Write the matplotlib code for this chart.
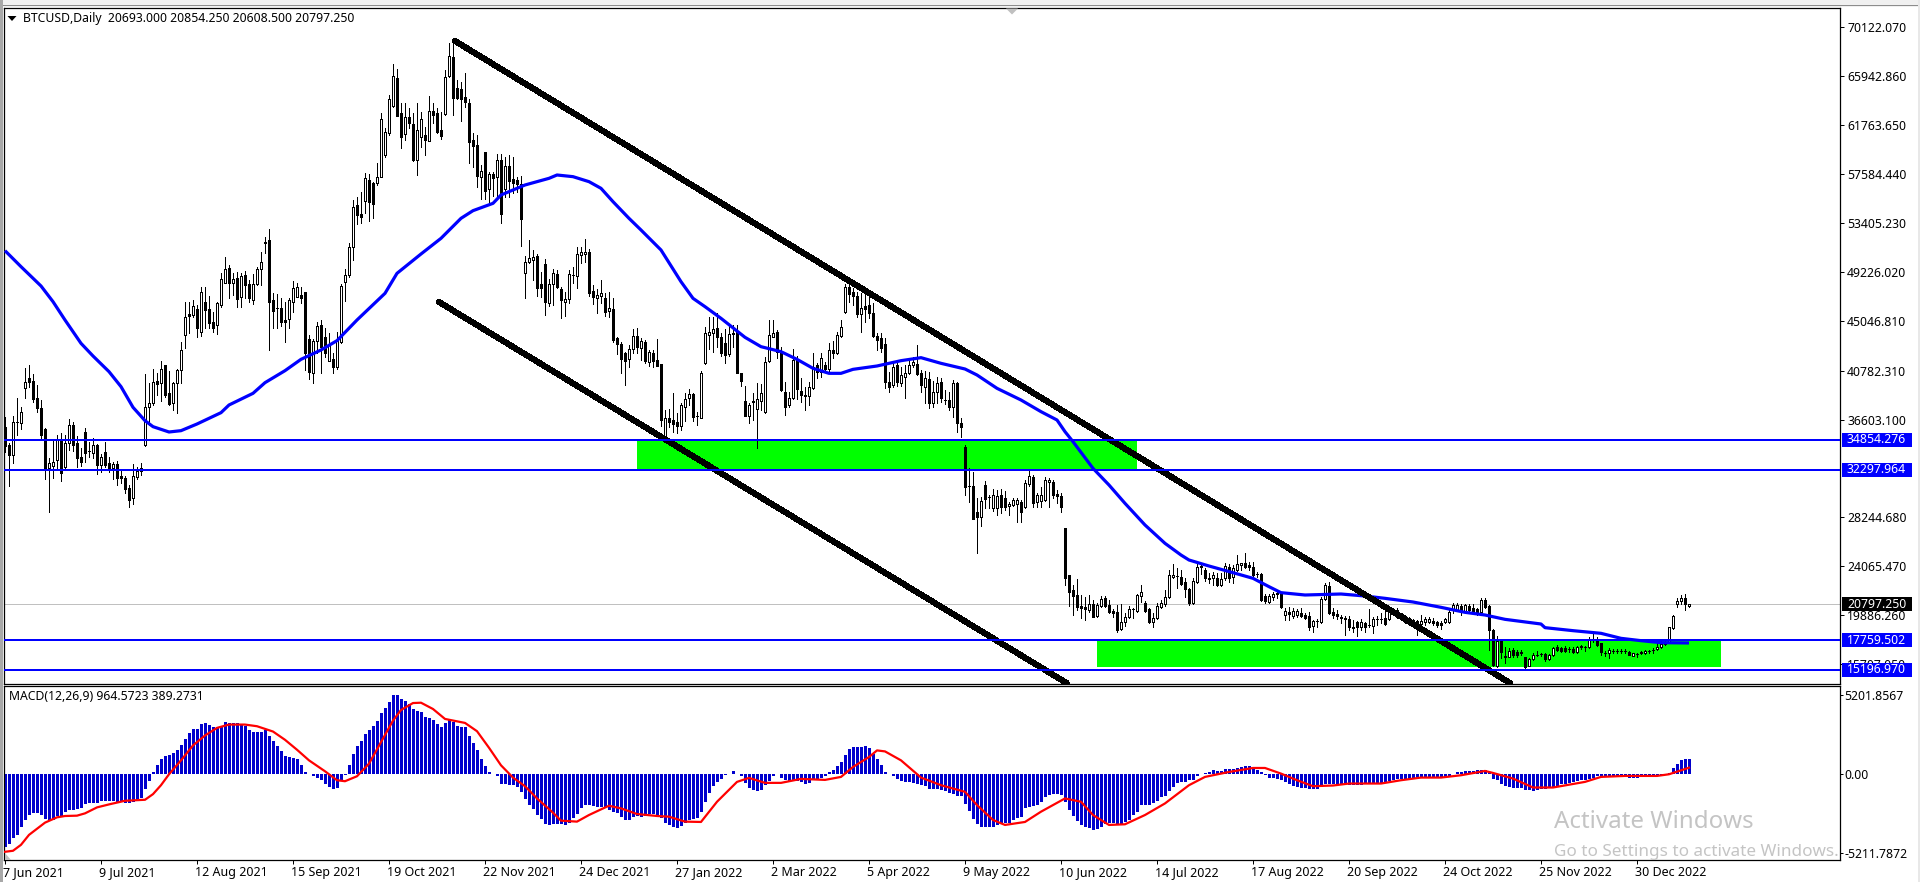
import matplotlib
matplotlib.use('Agg')
import matplotlib.pyplot as plt
from matplotlib.patches import Rectangle, Polygon
from matplotlib.transforms import ScaledTranslation

plt.rcParams['font.family'] = ['Noto Sans', 'DejaVu Sans']

# daily candles
opens = [
    35936,34426,33572,36364,36278,39270,40124,39897,38415,37560,
    35765,32489,32660,33144,34854,32575,34569,36136,34569,33372,
    35509,33942,33771,34426,32717,33800,32859,32489,32774,31777,
    31577,30723,29868,31720,32432,34426,37646,37988,39897,39697,
    41264,38842,37988,39697,40837,43829,45624,45538,46051,44114,
    46677,46023,44968,44683,46392,48302,49527,48244,48672,47048,
    48957,48187,46820,48159,49441,51663,51948,46820,46136,46108,
    45111,45168,46677,47105,47247,47532,43458,40552,43345,44683,
    43629,41635,41749,41122,43259,48387,48957,51321,54939,54170,
    55310,57076,56848,56848,57361,59213,61065,63401,65766,62774,
    61008,62489,61863,58786,60723,60922,60438,63002,62774,61350,
    62717,65965,67561,64911,64826,64199,63629,60495,60068,57304,
    59441,56279,57561,57304,58786,56307,58273,57134,57076,56735,
    49156,50039,50239,50581,48188,49868,46592,48159,49042,47760,
    46678,46906,48957,48900,50695,50780,50923,47589,47020,47190,
    46962,45908,46051,43543,43059,42262,41749,42603,43743,42746,
    43259,41550,42262,41692,41350,35225,36706,36564,36364,36079,
    37646,38415,38757,36906,36706,41463,43828,43970,44398,43629,
    43173,42204,43971,44113,40552,38187,36905,38215,37475,38215,
    37219,41606,43686,44056,42261,38928,37845,38415,41748,39070,
    38672,38615,39270,41264,40694,41264,40894,42546,42261,43743,
    45822,47959,47532,47161,45623,46307,46392,45680,43743,43543,
    43059,39839,39554,41264,39697,40210,40609,41264,41349,40552,
    39412,40039,37987,38985,39839,38294,38272,37646,39754,36278,
    34284,30950,30922,28728,28301,31007,30010,29070,29070,30153,
    29868,29212,29298,29383,29526,29099,31093,31719,29583,29668,
    29725,31292,31292,30238,30067,27304,23315,22033,21606,20666,
    20552,20324,20837,19811,20666,21321,20751,20267,20181,18671,
    19326,19697,20395,20267,21520,20950,20381,19326,19611,20609,
    20837,21406,23173,23244,23173,22745,22118,20893,22688,23970,
    23742,23044,23030,23030,22460,23030,24027,23116,23742,24198,
    24369,24170,24027,23388,23401,21520,21036,21463,21762,21748,
    19896,20181,19811,19925,20096,19896,19839,18956,19397,19326,
    21235,22375,20153,19953,19683,19669,19583,18855,19327,18842,
    19184,19055,18985,19540,19540,19612,19526,20381,20324,20039,
    19540,19612,19469,19355,19127,19327,19327,19412,19270,19241,
    19327,19327,20324,20324,20694,20267,20666,20466,20381,20181,
    21179,20666,18615,15538,17703,16279,16335,16905,16763,16677,
    16279,15566,16108,16520,16577,16563,16108,16449,17133,17048,
    17105,16977,16991,16763,17133,17147,17133,17831,17760,17475,
    16691,16620,16862,16862,16834,16834,16734,16392,16577,16620,
    16620,16834,16920,16962,17133,17418,17532,18785,20837,21122,
    21321,20693]
highs = [
    36848,34569,36933,38415,37646,40979,41264,40495,39555,38273,
    35851,33287,34797,35281,35424,35281,36649,36420,35196,34142,
    35851,34711,34996,34483,33628,34654,33429,33002,33059,32290,
    31777,31007,32802,32575,32916,40495,39697,40922,40552,41606,
    41264,40780,39782,40922,43259,46677,46677,46820,46392,47959,
    47959,47161,45823,46677,49099,50467,49811,49156,49241,49156,
    49327,48529,49042,49612,50951,52176,52860,47389,47332,46962,
    46677,46962,48472,48301,47959,47532,43828,43458,44968,45111,
    44399,43971,42262,44114,48187,49441,51720,55367,55652,56079,
    57703,57589,56934,58501,62774,61492,64341,66963,66535,63629,
    63686,63202,62774,63629,62917,61635,64256,63629,63202,62917,
    66478,68757,69099,65623,65481,66250,63971,61065,60923,58358,
    59441,57789,57789,59299,59299,59071,59213,59014,57361,57418,
    50581,51948,51094,50752,49242,50296,48586,49441,49384,47903,
    47475,49384,49669,51379,51379,52034,51151,48102,47732,48530,
    47390,47475,46962,43686,43202,42404,42974,44342,44399,43544,
    43401,42547,42547,43487,41350,37418,37475,38900,37133,38045,
    38843,39213,38843,37276,40780,44483,45395,45395,45737,43971,
    44312,44683,44683,44683,40609,39469,38045,38842,39697,39640,
    41919,45110,45110,44255,42831,39839,38985,42603,42033,40124,
    39412,39839,42261,41463,42261,41549,43173,43344,44113,45110,
    48159,48244,47817,47532,47446,47247,47247,46535,43971,43971,
    43543,40694,41463,41406,41065,41264,41691,41919,42973,40837,
    40780,40694,39925,40210,40124,39127,38985,39982,39839,36706,
    34426,32432,32090,29868,30010,31377,30153,30637,30580,30637,
    30523,29584,29868,29868,29725,31435,32204,31862,30295,30865,
    31719,31576,31434,30580,30295,27361,23315,22460,22945,21606,
    21406,21606,21178,20893,21520,21520,21178,20381,20751,20837,
    20039,20666,20466,21691,22460,21122,20466,20039,20893,21178,
    22033,23742,24255,23885,23742,23030,22176,23030,24255,24170,
    23885,23458,23600,23458,23458,24312,24227,24170,25024,24369,
    25167,24454,24454,23600,23458,21691,21691,21891,22033,21891,
    20466,20552,20466,20381,20466,20039,20181,19469,19526,21406,
    22603,22745,20466,20324,19897,19811,19811,19469,19412,19526,
    19327,20409,19697,19811,20039,20324,20267,20466,20466,20096,
    19897,19697,19526,19469,19897,19697,19697,19612,19412,19355,
    19612,20466,20951,20951,20837,20837,20837,20837,20466,21321,
    21321,20751,18672,18102,17703,17190,17048,17048,16905,16905,
    16335,16193,16677,16820,16677,16677,16563,17190,17332,17190,
    17275,17133,17190,17275,17332,17275,18045,18244,17988,17532,
    16848,17048,16990,16962,16962,16990,16820,16677,16677,16791,
    16905,16905,17048,17475,17760,17703,18899,19925,21321,21634,
    21663,20854]
lows = [
    33857,30950,32859,35281,35794,38415,39412,38130,37275,34996,
    31520,28728,31577,32290,31378,32290,33999,33942,32575,32632,
    33002,33429,33287,31948,32090,32575,32090,31520,31007,31150,
    30352,29156,29384,31520,31891,34369,36136,37845,38700,38216,
    38557,37845,37418,37133,39697,42689,43971,45396,43686,43743,
    44399,44399,44114,43885,46250,48244,46962,47247,46193,46250,
    46962,46677,46478,48102,48102,50866,42546,44399,44399,44598,
    43259,44399,45823,47047,46592,40837,40040,39697,42262,40552,
    41920,41635,40609,40894,43116,46763,48814,50239,53316,53430,
    54228,53601,53800,56620,57304,59071,60922,63344,62547,59840,
    60495,61492,58729,57532,59925,59213,60438,61920,61122,60552,
    62632,65851,62632,63971,62148,63287,58501,58216,56507,55452,
    55452,55225,55709,55652,53430,55652,55652,55937,56079,51464,
    47020,50011,48530,47190,47105,45538,46307,46393,47817,45310,
    45452,46535,48302,47874,49954,50096,47190,46478,45737,46592,
    45481,45396,43259,42205,40552,39584,41122,42262,42262,41692,
    41407,41208,41065,41208,36051,35082,35994,35566,35424,35709,
    36507,37846,36507,36136,36706,41349,42603,42404,42831,42033,
    41463,42033,42831,40552,39469,36905,36278,36563,34141,37418,
    37133,41549,43629,41834,39042,36990,37703,38358,38358,38130,
    37418,37845,39184,40124,40267,40780,40780,41834,42204,43686,
    45680,46677,46392,45395,44113,44968,45253,43686,42546,42404,
    39270,38985,39412,39469,39469,38415,40495,41121,40409,38985,
    38044,37560,37703,37987,38130,37930,37418,36848,35566,35139,
    30153,29584,28073,25167,27504,29013,29013,28813,28443,28586,
    28870,28443,29212,27874,27874,29013,30922,29156,29156,29156,
    29668,29156,29868,29440,28728,22460,20666,19896,20324,19612,
    19469,20181,19697,19697,20552,20552,20096,19754,18472,18614,
    18956,19611,19611,20181,21036,20181,19241,18842,19526,20466,
    20666,21321,23030,22176,22460,21463,20751,20836,22603,23401,
    22831,22603,22460,22375,22375,22888,22745,22603,23685,23742,
    23885,23742,23173,23173,21121,20893,20893,21178,21321,20495,
    19469,19469,19611,19754,19754,19526,18614,18472,18899,19241,
    21178,19953,19611,19526,19184,18187,18615,18472,18102,18615,
    18472,18899,18387,19042,19184,19042,19469,19897,19612,19469,
    19184,19042,18899,18187,18956,19042,19241,19042,18899,18672,
    19184,19241,20039,20267,19897,20181,20181,20039,19897,20096,
    20466,16905,15538,15481,16193,15765,16279,16279,16335,16478,
    15338,15538,16051,16392,16392,15993,16051,16392,16848,16763,
    16763,16763,16620,16677,17019,16848,17048,17617,17247,16478,
    16392,16193,16677,16620,16620,16677,16449,16364,16335,16563,
    16563,16677,16677,16905,17076,17332,17475,18728,20609,20837,
    20324,20608]
closes = [
    34341,33572,36364,36420,37218,39782,39839,38330,37617,35281,
    32489,32859,32945,34854,32062,34626,36136,34426,33287,32973,
    33771,33914,34455,32717,33429,32717,32347,32774,31577,31634,
    30666,29725,31777,32233,32204,37646,37988,39839,39611,40922,
    38700,37931,39697,40837,42547,45396,45453,46307,44399,47532,
    45966,44883,44455,46535,48586,49441,48244,48586,46877,48871,
    48102,46962,48159,49441,50097,51806,46677,45909,46108,44968,
    44968,46820,47817,47959,47019,42262,40695,43345,44598,42831,
    42262,42973,41065,43401,48016,48957,51378,54797,54085,53885,
    57218,55225,55025,57304,62262,61207,63971,65965,62547,60723,
    62489,61976,58786,61350,62262,60495,63002,62632,61207,60837,
    65908,67675,64057,64057,63971,63772,60353,60011,57447,57817,
    56165,57589,57219,58786,54142,58273,57020,56849,56735,53715,
    50039,50381,50524,47874,47874,46678,48159,49099,47960,46820,
    46906,49014,48985,50723,50923,50894,47447,47105,47247,47418,
    45823,46108,43401,43031,41806,41635,42603,43743,42775,43344,
    41606,42376,41635,41208,36564,36706,36421,36222,36079,37817,
    38330,38757,36849,36878,40552,44028,44113,44341,43629,42318,
    42119,43885,43943,40609,39925,36905,37845,38102,38329,38899,
    41549,43828,43971,42404,39127,37703,38415,41691,39184,38700,
    38643,39412,41065,40694,41834,40894,42546,42261,43828,44484,
    47959,47332,47190,45623,46107,46022,45737,43743,43401,42688,
    39839,39412,41121,39839,40409,40609,41264,41549,40495,39554,
    40124,38044,38985,39754,38415,38265,37646,39697,36335,35936,
    30865,30922,28073,28301,29669,29782,29982,30153,30096,29156,
    29156,29384,29725,29725,28671,31207,31776,29497,30153,30153,
    31434,31434,30153,30067,29099,23087,21891,21520,20609,20523,
    20381,20837,19754,20751,21264,20666,20181,20096,18614,19326,
    19697,20381,20367,21606,21834,20267,19326,19611,20666,20893,
    21463,23315,23315,23216,22517,22118,20893,22802,24027,24084,
    23030,23016,23315,22460,22945,24084,23087,23885,24227,24312,
    24027,23970,23315,23360,21178,21121,21520,21691,21734,20552,
    20267,19982,20267,20267,19839,19640,18842,19383,19369,21264,
    22460,20039,19868,19811,19655,19526,18899,18827,18842,19327,
    18899,19027,19526,19512,19512,19127,20124,20039,19754,19612,
    19512,19327,19184,19127,19412,19555,19555,19184,19042,19042,
    19526,20181,20751,20751,20267,20751,20324,20181,20181,21179,
    20609,18615,15623,17703,16763,16392,16848,16478,16478,16763,
    15424,16108,16449,16492,16549,16108,16449,17105,16905,16848,
    16848,16949,16763,17190,17247,17119,17760,17803,17332,16763,
    16663,16905,16834,16834,16806,16806,16506,16620,16549,16706,
    16820,16806,16892,17133,17418,17532,18842,19840,21122,21321,
    20809,20797]

# MACD histogram, one value per bar
macd_hist = [
    -4846,-4628,-4257,-4039,-3493,-3056,-2729,-2620,-2620,-2729,
    -2991,-3056,-3056,-2794,-2772,-2510,-2401,-2401,-2358,-2292,
    -2030,-1965,-1965,-1921,-1812,-1812,-1812,-1812,-1856,-1790,
    -1921,-1965,-1856,-1790,-1637,-982,-502,109,546,982,
    1135,1201,1353,1528,1856,2292,2663,2947,2947,3275,
    3318,3231,3056,3100,3165,3427,3362,3362,3318,3231,
    3165,2882,2729,2729,2772,2903,2510,2139,1790,1484,
    1135,1092,1048,982,546,109,-44,-175,-262,-437,
    -655,-873,-1026,-939,-437,-109,546,1310,1790,2139,
    2620,2882,3165,3493,3973,4322,4737,5196,5196,4912,
    4803,4584,4257,4104,4039,3711,3667,3536,3275,3100,
    3318,3536,3384,3165,3100,3056,2467,2008,1528,982,
    480,109,-44,-153,-655,-655,-720,-764,-873,-1201,
    -1703,-2074,-2358,-2729,-2991,-3318,-3384,-3340,-3340,-3340,
    -3384,-3275,-2947,-2663,-2292,-2074,-2074,-2118,-2183,-2183,
    -2227,-2401,-2510,-2620,-2838,-3056,-3056,-2882,-2794,-2838,
    -2772,-2663,-2663,-2794,-2947,-3231,-3384,-3536,-3580,-3449,
    -3231,-3056,-2991,-2947,-2510,-1899,-1266,-830,-546,-371,
    -109,-44,153,-22,-175,-611,-917,-1092,-1135,-1092,
    -764,-502,-175,-22,-262,-437,-546,-437,-480,-546,
    -699,-611,-393,-327,-262,-131,131,218,480,764,
    1201,1594,1725,1725,1725,1790,1703,1310,982,546,
    109,-22,-131,-327,-502,-546,-546,-589,-655,-764,
    -808,-982,-1004,-1004,-1092,-1135,-1266,-1375,-1463,-1484,
    -2008,-2445,-2991,-3318,-3493,-3493,-3493,-3493,-3384,-3318,
    -3275,-3231,-3056,-2903,-2838,-2249,-2227,-2139,-2074,-1856,
    -1528,-1419,-1353,-1353,-1419,-1856,-2401,-2794,-3100,-3384,
    -3493,-3602,-3711,-3646,-3493,-3318,-3275,-3275,-3318,-3340,
    -3187,-3056,-2729,-2510,-2074,-2074,-2074,-1965,-1790,-1528,
    -1484,-1135,-873,-611,-546,-546,-437,-393,-175,-44,
    44,131,218,153,153,306,306,306,393,437,
    480,480,327,262,109,-109,-262,-284,-349,-393,
    -546,-699,-808,-873,-917,-939,-1004,-1004,-1004,-873,
    -699,-655,-655,-655,-699,-699,-720,-742,-742,-720,
    -699,-655,-655,-655,-611,-568,-502,-393,-349,-327,
    -327,-327,-306,-284,-284,-262,-262,-262,-262,-262,
    -218,-131,-44,87,109,153,175,175,218,262,
    218,109,-327,-437,-655,-808,-873,-917,-961,-961,
    -1048,-1092,-1135,-1092,-1004,-982,-961,-873,-808,-699,
    -655,-611,-546,-502,-437,-393,-327,-262,-175,-131,
    -131,-131,-153,-175,-218,-218,-262,-262,-262,-218,
    -175,-175,-153,-131,-131,-87,44,371,655,873,
    982,965]

# MACD signal line
signal_bars = [
    0,2,4,6,10,13,15,18,20,23,26,30,35,37,39,41,44,47,50,53,56,60,63,67,70,73,76,
    80,83,85,88,91,94,97,99,102,104,107,110,115,118,121,124,127,130,133,137,139,
    143,146,149,151,154,158,163,166,170,174,178,183,186,190,194,199,205,209,212,
    216,218,220,224,229,234,240,243,247,250,255,259,265,269,272,276,280,285,290,
    296,300,306,312,315,319,323,327,332,336,344,349,354,359,364,370,372,377,382,
    387,395,399,405,413,416,421]
signal_values = [
    -5152,-5086,-4693,-4039,-3231,-2882,-2794,-2772,-2620,-2227,-2030,-1790,-1725,
    -1353,-764,-44,873,1856,2510,3013,3231,3231,3122,2772,2227,1572,873,
    153,-437,-502,-175,655,2074,3493,4191,4650,4672,4257,3602,3340,2794,1703,546,
    -262,-830,-1637,-2576,-3100,-3165,-2729,-2358,-2118,-2292,-2663,-2794,-2838,
    -3165,-3187,-1856,-546,-284,-611,-611,-349,-415,-218,437,1092,1528,1463,873,
    -262,-764,-1201,-2074,-3056,-3384,-3187,-2510,-1637,-1856,-2729,-3384,-3340,
    -2729,-1965,-764,-218,109,371,371,0,-437,-830,-786,-655,-655,-437,-262,-262,
    -109,175,44,-327,-917,-917,-546,-218,-153,-153,-44,389]

# blue moving average
ma_bars = [
    0,4,9,12,15,19,22,26,29,32,35,37,41,44,48,54,56,62,65,70,74,79,83,88,95,98,104,
    109,114,117,122,124,130,136,138,142,146,149,152,156,159,164,169,172,175,179,
    185,189,194,198,202,206,209,212,218,224,229,234,240,243,248,254,259,263,265,
    267,272,276,280,285,290,294,296,301,307,312,316,319,325,334,340,345,352,359,
    365,370,375,384,385,392,399,404,409,414,421]
ma_values = [
    51036,49669,48017,46677,45111,43116,42034,40695,39413,37647,36507,35994,35538,
    35651,36221,37190,37845,38843,39754,40780,41749,42546,43345,45111,47390,49099,
    50752,52091,53800,54455,55082,55794,56649,57219,57504,57361,56934,56364,55225,
    53800,52803,51093,48386,46962,46250,45253,43629,42831,42404,41748,40979,40552,
    40552,40893,41179,41634,41891,41407,40922,40409,39270,38272,37275,36563,35566,
    34711,32432,31007,29440,27589,26022,25024,24597,24084,23515,23031,22318,21806,
    21606,21691,21520,21321,21008,20552,20124,19897,19526,19127,18814,18558,18330,
    17902,17703,17532,17503]

levels = [34854.276, 32297.964, 17759.502, 15196.970]
last_price = 20797.250

price_ticks = [70122.07, 65942.86, 61763.65, 57584.44, 53405.23, 49226.02, 45046.81,
               40782.31, 36603.10, 28244.68, 24065.47, 19886.26, 15707.05]
price_labels = ['70122.070', '65942.860', '61763.650', '57584.440', '53405.230',
                '49226.020', '45046.810', '40782.310', '36603.100', '28244.680',
                '24065.470', '19886.260', '15707.050']
macd_ticks = [5201.8567, 0, -5211.7872]
macd_labels = ['5201.8567', '0.00', '-5211.7872']
date_bars = list(range(0, 432, 24))
date_labels = ['7 Jun 2021', '9 Jul 2021', '12 Aug 2021', '15 Sep 2021', '19 Oct 2021',
               '22 Nov 2021', '24 Dec 2021', '27 Jan 2022', '2 Mar 2022', '5 Apr 2022',
               '9 May 2022', '10 Jun 2022', '14 Jul 2022', '17 Aug 2022', '20 Sep 2022',
               '24 Oct 2022', '25 Nov 2022', '30 Dec 2022']

W, H = 1920, 882
BLUE = '#0000ff'
GREEN = '#00ff00'
FS = 8.8


def box(x0, y0, x1, y1):
    # pixel box from the top left corner, to figure fractions
    return [x0 / W, 1 - y1 / H, (x1 - x0) / W, (y1 - y0) / H]


def fx(x):
    return x / W


def fy(y):
    return 1 - y / H


def badge(a, price, color):
    # price tag on the right scale, 70 x 14 px
    tr = a.get_yaxis_transform()
    a.add_patch(Rectangle((1.0011, price - 7 * 85.47), 70 / 1836, 14 * 85.47, transform=tr, fc=color,
                          lw=0, zorder=9, clip_on=False))
    a.text(1.0038, price, f'{price:.3f}', transform=tr, color='white', fontsize=FS, va='center',
           ha='left', zorder=10, clip_on=False)


fig = plt.figure(figsize=(W / 100, H / 100), dpi=100, facecolor='white')

# window chrome
fig.add_artist(Rectangle((0, fy(7)), 1, 7 / H, transform=fig.transFigure, fc='#f0f0f0', lw=0))
fig.add_artist(Rectangle((0, fy(6)), 1, 1.5 / H, transform=fig.transFigure, fc='#8c8c8c', lw=0))
fig.add_artist(Rectangle((0, 0), 3 / W, 1, transform=fig.transFigure, fc='#a8a8a8', lw=0))
fig.add_artist(Rectangle((fx(1918), 0), 2 / W, 1, transform=fig.transFigure, fc='#e8e8e8', lw=0))

ax = fig.add_axes(box(4, 8, 1840, 684))
ax2 = fig.add_axes(box(4, 686, 1840, 860))

bars = list(range(len(closes)))

# supply / demand zones
ax.add_patch(Rectangle((158, 32298), 125, 34854 - 32298, fc=GREEN, lw=0, zorder=1))
ax.add_patch(Rectangle((273, 15452), 156, 17760 - 15452, fc=GREEN, lw=0, zorder=1))

ax.axhline(last_price, color='#c0c0c0', lw=0.72, zorder=1.5)

# candles
ax.vlines(bars, lows, highs, color='k', lw=0.72, antialiased=False, zorder=2)
body_low = [min(o, c) for o, c in zip(opens, closes)]
body_h = [abs(c - o) for o, c in zip(opens, closes)]
face = ['white' if c >= o else 'black' for o, c in zip(opens, closes)]
ax.bar(bars, body_h, bottom=body_low, width=0.5, color=face, edgecolor='k', linewidth=0.72,
       antialiased=False, zorder=2.2)

ax.plot(ma_bars, ma_values, color=BLUE, lw=2.3, zorder=3, solid_capstyle='butt')

# channel lines
ax.plot([112.5, 376.25], [68957, 14085], color='k', lw=3.6, antialiased=False, zorder=4,
        solid_capstyle='round')
ax.plot([108.5, 265.4], [46649, 14085], color='k', lw=3.6, antialiased=False, zorder=4,
        solid_capstyle='round')

for lev in levels:
    ax.axhline(lev, color=BLUE, lw=1.25, zorder=5, antialiased=False)
    badge(ax, lev, BLUE)
badge(ax, last_price, 'black')

ax.set_xlim(-0.25, 458.75)
ax.set_ylim(13999, 71777)
ax.set_xticks([])
ax.yaxis.tick_right()
ax.set_yticks(price_ticks)
ax.set_yticklabels(price_labels, fontsize=FS)
ax.tick_params(axis='y', length=2.9, width=0.72, pad=2.2)

# MACD panel
ax2.bar(bars, macd_hist, width=0.75, color='#0000cd', lw=0, antialiased=False, zorder=2)
ax2.plot(signal_bars, signal_values, color='#ff0000', lw=1.6, zorder=3)
ax2.set_xlim(-0.25, 458.75)
ax2.set_ylim(-5694, 5773)
ax2.yaxis.tick_right()
ax2.set_yticks(macd_ticks)
ax2.set_yticklabels(macd_labels, fontsize=FS)
ax2.tick_params(axis='y', length=2.2, width=0.72, pad=1.0)
ax2.set_xticks(date_bars)
ax2.set_xticklabels(date_labels, fontsize=9, ha='left')
ax2.tick_params(axis='x', length=2.9, width=0.72, pad=1.2)
shift = ScaledTranslation(-2 / 100, 0, fig.dpi_scale_trans)
for lab in ax2.get_xticklabels():
    lab.set_transform(lab.get_transform() + shift)

for a in (ax, ax2):
    for s in a.spines.values():
        s.set_linewidth(0.9)

# header texts
fig.add_artist(Polygon([[fx(7.5), fy(16)], [fx(16.5), fy(16)], [fx(12), fy(21)]],
                       closed=True, transform=fig.transFigure, fc='k', lw=0))
fig.text(fx(23), fy(18.5), 'BTCUSD,Daily  20693.000 20854.250 20608.500 20797.250',
         fontsize=FS, va='center', ha='left')
fig.text(fx(9), fy(697), 'MACD(12,26,9) 964.5723 389.2731', fontsize=FS, va='center', ha='left')

# small grey markers of the terminal
fig.add_artist(Polygon([[fx(1006), fy(8.5)], [fx(1018), fy(8.5)], [fx(1012), fy(14.5)]],
                       closed=True, transform=fig.transFigure, fc='#c0c0c0', lw=0))
fig.add_artist(Polygon([[fx(5), fy(853)], [fx(5), fy(859.5)], [fx(11), fy(859.5)]],
                       closed=True, transform=fig.transFigure, fc='#c0c0c0', lw=0))

# windows watermark
fig.text(fx(1554), fy(822), 'Activate Windows', fontsize=17.3, color='#c4c4c4', va='center', ha='left')
fig.text(fx(1554), fy(852), 'Go to Settings to activate Windows.', fontsize=12.3, color='#c4c4c4',
         va='center', ha='left')

fig.savefig('out.png', dpi=100)
plt.close('all')
